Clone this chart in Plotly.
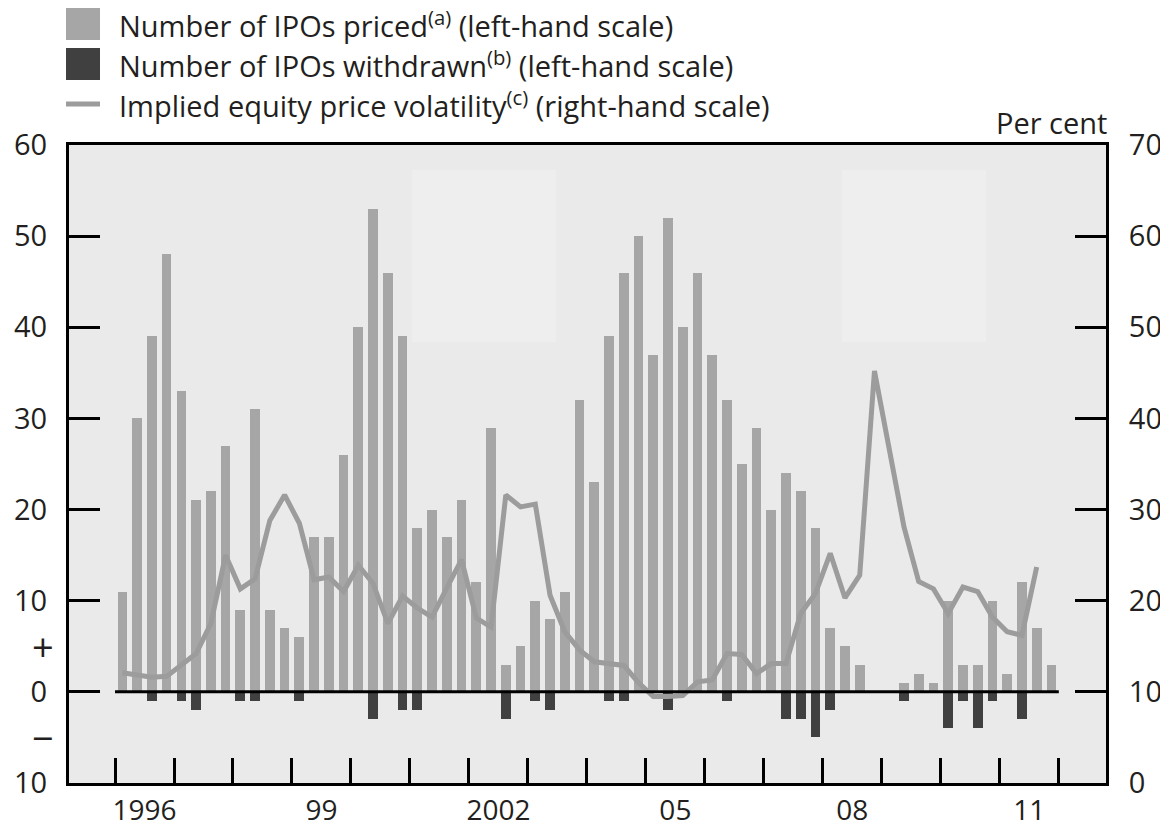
import plotly.graph_objects as go

# ---------------- data ----------------
years = list(range(1996, 2012))
quarters = [f"{y} Q{q}" for y in years for q in (1, 2, 3, 4)]

# Number of IPOs priced (left-hand scale)
ipos_priced = [
    11, 30, 39, 48,   # 1996
    33, 21, 22, 27,   # 1997
    9, 31, 9, 7,      # 1998
    6, 17, 17, 26,    # 1999
    40, 53, 46, 39,   # 2000
    18, 20, 17, 21,   # 2001
    12, 29, 3, 5,     # 2002
    10, 8, 11, 32,    # 2003
    23, 39, 46, 50,   # 2004
    37, 52, 40, 46,   # 2005
    37, 32, 25, 29,   # 2006
    20, 24, 22, 18,   # 2007
    7, 5, 3, 0,       # 2008
    0, 1, 2, 1,       # 2009
    10, 3, 3, 10,     # 2010
    2, 12, 7, 3,      # 2011
]

# Number of IPOs withdrawn (left-hand scale, shown negative)
ipos_withdrawn = [
    0, 0, -1, 0,      # 1996
    -1, -2, 0, 0,     # 1997
    -1, -1, 0, 0,     # 1998
    -1, 0, 0, 0,      # 1999
    0, -3, 0, -2,     # 2000
    -2, 0, 0, 0,      # 2001
    0, 0, -3, 0,      # 2002
    -1, -2, 0, 0,     # 2003
    0, -1, -1, 0,     # 2004
    0, -2, 0, 0,      # 2005
    0, -1, 0, 0,      # 2006
    0, -3, -3, -5,    # 2007
    -2, 0, 0, 0,      # 2008
    0, -1, 0, 0,      # 2009
    -4, -1, -4, -1,   # 2010
    0, -3, 0, 0,      # 2011
]

# Implied equity price volatility, per cent (right-hand scale), to 2011 Q3
volatility = [
    12.1, 11.8, 11.6, 11.7,   # 1996
    12.9, 14.2, 17.5, 25.0,   # 1997
    21.3, 22.4, 28.8, 31.6,   # 1998
    28.5, 22.3, 22.6, 21.0,   # 1999
    23.9, 21.9, 17.5, 20.5,   # 2000
    19.2, 18.2, 21.4, 24.5,   # 2001
    18.1, 17.1, 31.6, 30.3,   # 2002
    30.6, 20.6, 16.6, 14.6,   # 2003
    13.3, 13.1, 12.9, 11.0,   # 2004
    9.5, 9.5, 9.6, 11.1,      # 2005
    11.3, 14.2, 14.1, 12.0,   # 2006
    13.1, 13.1, 18.6, 20.8,   # 2007
    25.2, 20.3, 22.8, 45.2,   # 2008
    36.5, 28.1, 22.1, 21.3,   # 2009
    18.6, 21.5, 21.0, 18.2,   # 2010
    16.6, 16.2, 23.7,         # 2011
]

year_label_vals = [1996, 1999, 2002, 2005, 2008, 2011]
year_label_text = ["1996", "99", "2002", "05", "08", "11"]

left_tick_vals = [-10, 0, 10, 20, 30, 40, 50, 60]
left_tick_text = ["10", "0", "10", "20", "30", "40", "50", "60"]
sign_labels = [(5, "+"), (-5, "\u2212")]
right_tick_vals = [0, 10, 20, 30, 40, 50, 60, 70]

# ---------------- helpers ----------------
def qpos(label):
    y, q = label.split(" Q")
    return int(y) + (int(q) - 0.5) / 4.0

xq = [qpos(q) for q in quarters]

OFF = 8                      # page body margin offsets the figure
W, H = 1168 - OFF, 823 - OFF
# plot area in reference-picture pixels
RL, RR, RT, RB = 69, 1106, 145, 783
L, R, T, B = RL - OFF, RR - OFF, RT - OFF, RB - OFF

def px(x):          # reference x pixel -> paper
    return (x - RL) / (RR - RL)

def py(y):          # reference y pixel -> paper
    return (RB - y) / (RB - RT)

FONT = "Open Sans"
FS = 29
TXT = "#231f20"
C_PRICED = "#a6a6a6"
C_WITHDRAWN = "#404040"
C_LINE = "#9c9c9c"

fig = go.Figure()

fig.add_trace(go.Bar(
    x=xq, y=ipos_priced, width=0.165, marker=dict(color=C_PRICED, line=dict(width=0)),
    name="Number of IPOs priced", showlegend=False, yaxis="y",
))
fig.add_trace(go.Bar(
    x=xq, y=ipos_withdrawn, width=0.165, marker=dict(color=C_WITHDRAWN, line=dict(width=0)),
    name="Number of IPOs withdrawn", showlegend=False, yaxis="y",
))
fig.add_trace(go.Scatter(
    x=xq[:len(volatility)], y=volatility, mode="lines",
    line=dict(color=C_LINE, width=5), name="Implied equity price volatility",
    showlegend=False, yaxis="y2",
))

shapes = []
# faint lighter patches in the background
for x0, x1 in ((412, 556), (842, 986)):
    shapes.append(dict(type="rect", xref="paper", yref="paper",
                       x0=px(x0), x1=px(x1), y0=py(342), y1=py(170),
                       fillcolor="#eeeeee", line=dict(width=0), layer="below"))
# zero line across the data span
shapes.append(dict(type="line", xref="x", yref="y", x0=years[0], x1=years[-1] + 1,
                   y0=0, y1=0, line=dict(color="black", width=3), layer="above"))

# manual legend
legend_rows = [
    ("box", C_PRICED, "Number of IPOs priced<sup>(a)</sup> (left-hand scale)", 24),
    ("box", C_WITHDRAWN, "Number of IPOs withdrawn<sup>(b)</sup> (left-hand scale)", 64),
    ("line", C_LINE, "Implied equity price volatility<sup>(c)</sup> (right-hand scale)", 104),
]
annotations = []
for kind, col, text, yc in legend_rows:
    if kind == "box":
        shapes.append(dict(type="rect", xref="paper", yref="paper",
                           x0=px(66), x1=px(100), y0=py(yc + 16), y1=py(yc - 16),
                           fillcolor=col, line=dict(width=0)))
    else:
        shapes.append(dict(type="line", xref="paper", yref="paper",
                           x0=px(66), x1=px(100), y0=py(yc), y1=py(yc),
                           line=dict(color=col, width=5)))
    annotations.append(dict(xref="paper", yref="paper", x=px(117), y=py(yc),
                            xanchor="left", yanchor="middle", showarrow=False,
                            text=text, font=dict(family=FONT, size=29, color=TXT)))

annotations.append(dict(xref="paper", yref="paper", x=px(1109), y=py(123),
                        xanchor="right", yanchor="middle", showarrow=False,
                        text="Per cent", font=dict(family=FONT, size=FS, color=TXT)))

for yv, s in sign_labels:
    annotations.append(dict(xref="paper", yref="y", x=px(43), y=yv,
                            xanchor="center", yanchor="middle", showarrow=False,
                            text=s, font=dict(family=FONT, size=38, color=TXT)))

fig.update_layout(
    width=W, height=H,
    margin=dict(l=L, r=W - R, t=T, b=H - B, autoexpand=False),
    paper_bgcolor="white", plot_bgcolor="#eaeaea",
    barmode="overlay", bargap=0,
    font=dict(family=FONT, size=FS, color=TXT),
    showlegend=False,
    shapes=shapes, annotations=annotations,
    xaxis=dict(
        range=[1995.22, 2012.80],
        tickvals=[v + 0.5 for v in year_label_vals], ticktext=year_label_text,
        ticks="", showgrid=False, zeroline=False,
        showline=True, mirror=True, linecolor="black", linewidth=3,
        minor=dict(tickvals=years + [years[-1] + 1], ticks="inside", ticklen=25,
                   tickwidth=3, tickcolor="black", showgrid=False),
        tickfont=dict(family=FONT, size=28, color=TXT),
        ticklabelstandoff=0,
    ),
    yaxis=dict(
        range=[-10, 60],
        tickvals=left_tick_vals, ticktext=left_tick_text,
        ticks="", showgrid=False, zeroline=False,
        showline=True, linecolor="black", linewidth=3,
        minor=dict(tickvals=[0, 10, 20, 30, 40, 50], ticks="inside", ticklen=31,
                   tickwidth=3, tickcolor="black", showgrid=False),
        tickfont=dict(family=FONT, size=FS, color=TXT),
        ticklabelstandoff=13,
    ),
    yaxis2=dict(
        range=[0, 70], overlaying="y", side="right",
        tickvals=right_tick_vals, ticks="inside", ticklen=31, tickwidth=3,
        tickcolor="black", showgrid=False, zeroline=False,
        showline=True, linecolor="black", linewidth=3,
        tickfont=dict(family=FONT, size=FS, color=TXT),
        ticklabelstandoff=14,
    ),
)

fig.write_html("out.html")
